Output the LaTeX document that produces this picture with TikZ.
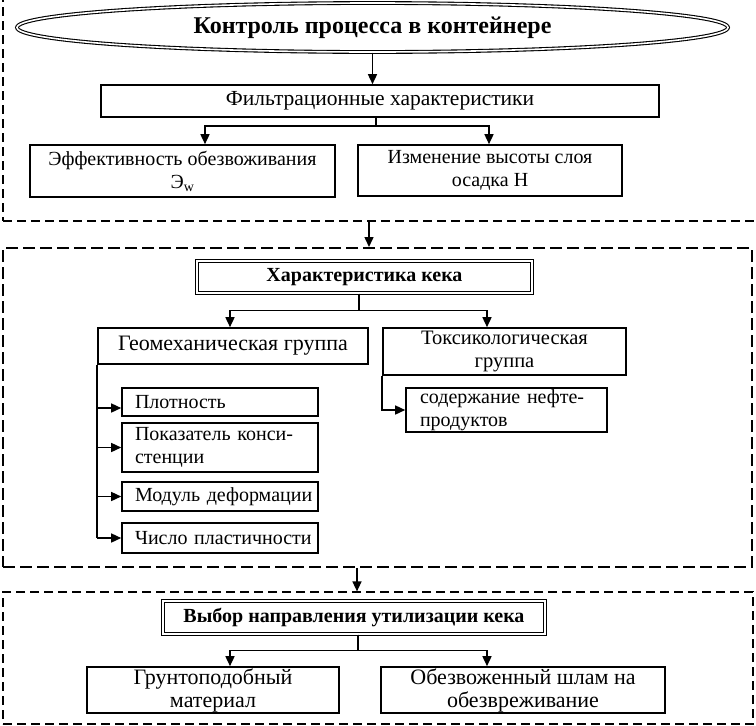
\documentclass[tikz,border=0pt]{standalone}
\usepackage{fontspec}
\setmainfont{Liberation Serif}
\usetikzlibrary{shapes.geometric,arrows.meta}
\begin{document}
\begin{tikzpicture}[x=1pt,y=-1pt,
  wh/.style 2 args={minimum width=#1pt, minimum height=#2pt},
  fs/.style={font=\fontsize{#1}{23}\selectfont},
  box/.style={draw, line width=1.6pt, inner sep=0pt, align=center, fs=20},
  dbox/.style={draw, double, line width=1.2pt, double distance=1.6pt, inner sep=0pt, align=center, font=\bfseries\fontsize{20}{23}\selectfont},
  lbox/.style={box, align=left, text width=#1pt, inner xsep=13pt},
  frameA/.style={draw, dashed, line width=1.2pt, dash pattern=on 9pt off 5pt, inner sep=0pt},
  frameB/.style={draw, dashed, line width=2pt, dash pattern=on 12pt off 5pt, inner sep=0pt},
  arr/.style={line width=1.5pt, -{Triangle[length=10pt,width=9pt]}},
  ln/.style={line width=1.5pt}
]
\useasboundingbox (0,0) rectangle (756,726);
% frames
\node[frameA, wh={767}{236}] (f1) at (386.5,103) {};
\node[frameB, wh={749}{319}] (f2) at (377.5,407.5) {};
\node[frameA, wh={750}{132}] (f3) at (378,658) {};
% title
\node[ellipse, draw, double, line width=1.1pt, double distance=1.6pt, minimum width=711pt, minimum height=49pt, inner sep=0pt, font=\bfseries\fontsize{24}{27}\selectfont] (title) at (372.5,27.5) {Контроль процесса в контейнере};
% block 1
\node[box, fs=21.5, wh={558}{32}] (filt) at (380,101) {Фильтрационные характеристики};
\node[box, fs=20, wh={305}{52}] (eff) at (182.5,171) {Эффективность обезвоживания\\Э\textsubscript{w}};
\node[box, fs=20, wh={264}{51}] (izm) at (490,170.5) {Изменение высоты слоя\\осадка Н};
% block 2
\node[dbox, wh={335}{32}] (char) at (364.5,277) {Характеристика кека};
\node[box, fs=22, wh={270}{36}] (geo) at (233,346) {Геомеханическая группа};
\node[box, fs=20.5, wh={243}{47}] (tox) at (504.5,351.5) {Токсикологическая\\группа};
\node[lbox=170, wh={196}{28}] (plot) at (220,402) {\mbox{Плотность}};
\node[lbox=170, wh={196}{49}] (pok) at (220,447.5) {\mbox{Показатель конси-}\\\mbox{стенции}};
\node[lbox=170, wh={196}{29}] (mod) at (220,496.5) {\mbox{Модуль деформации}};
\node[lbox=170, wh={196}{30}] (chis) at (220,538) {\mbox{Число пластичности}};
\node[lbox=173, wh={201}{44}] (sod) at (506.5,410) {\mbox{содержание нефте-}\\\mbox{продуктов}};
% block 3
\node[dbox, wh={382}{33}] (vyb) at (354,617.5) {Выбор направления утилизации кека};
\node[box, fs=22, wh={252}{46}] (grunt) at (213,690) {Грунтоподобный\\материал};
\node[box, fs=22, wh={284}{46}] (obez) at (523,690) {Обезвоженный шлам на\\обезвреживание};
% connectors
\draw[arr] (title.south) -- (title.south |- filt.north);
\draw[arr] ([xshift=-4pt]filt.south) -- ++(0,8) -| ([xshift=22.5pt]eff.north);
\draw[arr] ([xshift=-4pt]filt.south) -- ++(0,8) -| ([xshift=-1pt]izm.north);
\coordinate (c1) at (369,0);
\draw[arr] (f1.south -| c1) -- (f2.north -| c1);
\draw[arr] ([xshift=-5.5pt]char.south) -- ++(0,17) -| ([xshift=-3pt]geo.north);
\draw[arr] ([xshift=-5.5pt]char.south) -- ++(0,17) -| ([xshift=-17.5pt]tox.north);
\coordinate (p1) at ([yshift=-6pt]plot.west);
\draw[arr] (geo.south west) |- (p1);
\draw[ln] (geo.south west) -- (geo.south west |- chis.west);
\draw[arr] (geo.south west |- pok.west) -- (pok.west);
\draw[arr] (geo.south west |- mod.west) -- (mod.west);
\draw[arr] (geo.south west |- chis.west) -- (chis.west);
\draw[arr] (tox.south west) |- (sod.west);
\coordinate (c2) at (357,0);
\draw[arr] (f2.south -| c2) -- (f3.north -| c2);
\draw[arr] ([xshift=4pt]vyb.south) -- ++(0,16) -| ([xshift=17pt]grunt.north);
\draw[arr] ([xshift=4pt]vyb.south) -- ++(0,16) -| ([xshift=-36pt]obez.north);
\end{tikzpicture}
\end{document}
